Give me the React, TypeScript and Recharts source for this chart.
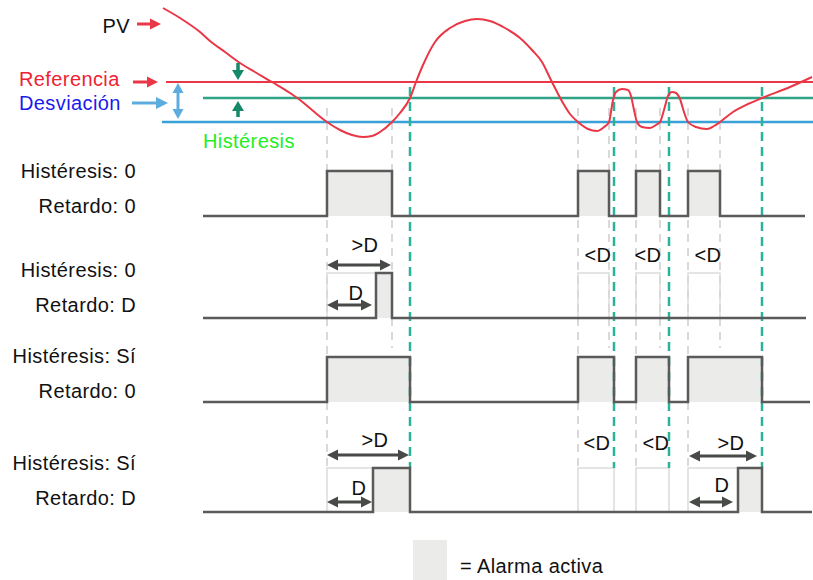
import React from 'react';
import { ComposedChart, Line, XAxis, YAxis, ReferenceLine, ReferenceArea, ReferenceDot } from 'recharts';

// ---------- data (diagram units: time along x, signal level along y) ----------
const pvTimes = [163, 180, 200, 210, 225, 240, 255, 272, 290, 300, 312, 327, 340, 352, 363, 372, 380, 392, 400, 410, 416, 423, 435, 450, 465, 477, 490, 505, 520, 532, 542, 550, 556, 563, 570, 578, 588, 597, 604, 609, 613, 616, 622, 628, 631, 634, 637, 642, 650, 656, 660, 664, 668, 672, 676, 680, 684, 688, 696, 707, 714, 720, 733, 748, 762, 790, 812];
const pvValues = [8, 18, 32, 41, 52, 63, 72, 82, 93, 100, 110, 122, 130, 135, 137, 136, 132, 122, 113, 98, 82, 65, 42, 28, 21, 19, 21, 28, 38, 50, 62, 78, 90, 103, 114, 122, 129, 131, 127, 122, 100, 92, 89, 90, 96, 110, 122, 127, 128, 125, 122, 110, 96, 92, 93, 99, 112, 122, 127, 129, 126, 122, 112, 104, 98, 87, 77];

const referencia = 82;
const histeresisLevel = 98;
const desviacion = 122;

const rowTitles = ['Histéresis: 0', 'Histéresis: 0', 'Histéresis: Sí', 'Histéresis: Sí'];
const rowDelays = ['Retardo: 0', 'Retardo: D', 'Retardo: 0', 'Retardo: D'];

// transition times (rise, fall, rise, fall, ...)
const row1Edges = [327, 392, 578, 609, 636, 660, 688, 720];
const row2Edges = [376, 392];
const row3Edges = [327, 410, 578, 614, 636, 669, 688, 762];
const row4Edges = [373, 410, 738, 762];

// would-be alarm windows (not reached because of the delay)
const row2Ghost = [[327, 376], [578, 609], [636, 660], [688, 720]];
const row4Ghost = [[327, 373], [578, 614], [636, 669], [688, 738]];

// crossings of PV with the deviation line (gray) and the hysteresis line (teal)
const grayLong = [327, 578, 636, 688];
const grayShort = [392, 609, 660, 720];
const tealCrossings = [410, 614, 669, 762];

// ---------- layout ----------
const W = 813;
const H = 580;
const FONT = '"Liberation Sans", Arial, sans-serif';
const ROWS = [
  { low: 216, high: 171, start: 203, end: 805, t1: 178, t2: 213 },
  { low: 318, high: 273, start: 203, end: 806, t1: 277, t2: 312 },
  { low: 402, high: 357, start: 203, end: 810, t1: 363, t2: 398 },
  { low: 512, high: 468, start: 203, end: 812, t1: 470, t2: 505 },
];
const allEdges = [row1Edges, row2Edges, row3Edges, row4Edges];
const ghosts = [[], row2Ghost, [], row4Ghost];

const SIG = '#5a5a5a';
const FILL = '#ebebea';
const RED = '#ea3747';
const GREEN_LINE = '#2ea386';
const BLUE_LINE = '#3aa0d8';
const LIGHT_BLUE = '#5cacdf';
const TEAL = '#2bb39a';
const DARK_GREEN = '#16896a';
const GRAY_DASH = '#d9d9d9';
const ARROW = '#474a47';

const pvData = pvTimes.map((t, i) => ({ t, v: pvValues[i] }));

const stepData = (edges: number[], r: typeof ROWS[number]) => {
  const pts = [{ t: r.start, v: r.low }];
  edges.forEach((e, i) => pts.push({ t: e, v: i % 2 === 0 ? r.high : r.low }));
  pts.push({ t: r.end, v: r.low });
  return pts;
};
const pulses = (edges: number[]) => {
  const out: number[][] = [];
  for (let i = 0; i + 1 < edges.length; i += 2) out.push([edges[i], edges[i + 1]]);
  return out;
};

type Arr = { x1: number; y1: number; x2: number; y2: number; color: string; w: number; both: boolean; hl: number; hw: number };
const arrows: Arr[] = [
  { x1: 137, y1: 24, x2: 161, y2: 24, color: RED, w: 3, both: false, hl: 11, hw: 11 },
  { x1: 133, y1: 82, x2: 158, y2: 82, color: RED, w: 3, both: false, hl: 11, hw: 11 },
  { x1: 132, y1: 103, x2: 168, y2: 103, color: LIGHT_BLUE, w: 3, both: false, hl: 12, hw: 12 },
  { x1: 178, y1: 83, x2: 178, y2: 119, color: LIGHT_BLUE, w: 3, both: true, hl: 10, hw: 11 },
  { x1: 238, y1: 63, x2: 238, y2: 80, color: DARK_GREEN, w: 3.5, both: false, hl: 10, hw: 12 },
  { x1: 238, y1: 117, x2: 238, y2: 101, color: DARK_GREEN, w: 3.5, both: false, hl: 10, hw: 12 },
  { x1: 327, y1: 265, x2: 391, y2: 265, color: ARROW, w: 3, both: true, hl: 11, hw: 11 },
  { x1: 327, y1: 305, x2: 372, y2: 305, color: ARROW, w: 3, both: true, hl: 11, hw: 11 },
  { x1: 327, y1: 455, x2: 409, y2: 455, color: ARROW, w: 3, both: true, hl: 11, hw: 11 },
  { x1: 327, y1: 502, x2: 372, y2: 502, color: ARROW, w: 3, both: true, hl: 11, hw: 11 },
  { x1: 689, y1: 456, x2: 757, y2: 456, color: ARROW, w: 3, both: true, hl: 11, hw: 11 },
  { x1: 689, y1: 502, x2: 733, y2: 502, color: ARROW, w: 3, both: true, hl: 11, hw: 11 },
];

type Lbl = { x: number; y: number; text: string; color: string; anchor: 'start' | 'middle' | 'end' };
const labels: Lbl[] = [
  { x: 130, y: 33, text: 'PV', color: '#111', anchor: 'end' },
  { x: 19, y: 86, text: 'Referencia', color: '#ee2233', anchor: 'start' },
  { x: 19, y: 110, text: 'Desviación', color: '#1a1aee', anchor: 'start' },
  { x: 203, y: 148, text: 'Histéresis', color: '#22ee22', anchor: 'start' },
  { x: 365, y: 252, text: '>D', color: '#111', anchor: 'middle' },
  { x: 356, y: 300, text: 'D', color: '#111', anchor: 'middle' },
  { x: 598, y: 262, text: '<D', color: '#111', anchor: 'middle' },
  { x: 648, y: 262, text: '<D', color: '#111', anchor: 'middle' },
  { x: 708, y: 262, text: '<D', color: '#111', anchor: 'middle' },
  { x: 375, y: 447, text: '>D', color: '#111', anchor: 'middle' },
  { x: 359, y: 495, text: 'D', color: '#111', anchor: 'middle' },
  { x: 597, y: 450, text: '<D', color: '#111', anchor: 'middle' },
  { x: 656, y: 450, text: '<D', color: '#111', anchor: 'middle' },
  { x: 731, y: 450, text: '>D', color: '#111', anchor: 'middle' },
  { x: 722, y: 492, text: 'D', color: '#111', anchor: 'middle' },
  { x: 460, y: 573, text: '= Alarma activa', color: '#111', anchor: 'start' },
];

const arrowShape = (a: Arr) => (p: any) => {
  const { x1, y1, x2, y2 } = p;
  const dx = x2 - x1;
  const dy = y2 - y1;
  const len = Math.hypot(dx, dy) || 1;
  const ux = dx / len;
  const uy = dy / len;
  const nx = -uy;
  const ny = ux;
  const head = (tx: number, ty: number, dx2: number, dy2: number) =>
    `${tx},${ty} ${tx - dx2 * a.hl + (nx * a.hw) / 2},${ty - dy2 * a.hl + (ny * a.hw) / 2} ${tx - dx2 * a.hl - (nx * a.hw) / 2},${ty - dy2 * a.hl - (ny * a.hw) / 2}`;
  const sx = a.both ? x1 + ux * a.hl * 0.7 : x1;
  const sy = a.both ? y1 + uy * a.hl * 0.7 : y1;
  const ex = x2 - ux * a.hl * 0.7;
  const ey = y2 - uy * a.hl * 0.7;
  return (
    <g>
      <line x1={sx} y1={sy} x2={ex} y2={ey} stroke={a.color} strokeWidth={a.w} />
      <polygon points={head(x2, y2, ux, uy)} fill={a.color} />
      {a.both ? <polygon points={head(x1, y1, -ux, -uy)} fill={a.color} /> : null}
    </g>
  );
};

const textShape = (l: Lbl, size: number, spacing: number) => (p: any) => (
  <text x={p.cx} y={p.cy} textAnchor={l.anchor} fontFamily={FONT} fontSize={size} letterSpacing={spacing} fill={l.color}>
    {l.text}
  </text>
);

export default function App() {
  return (
    <div style={{ position: 'absolute', left: 0, top: 0, width: W, height: H, background: '#fff' }}>
      <ComposedChart width={W} height={H} margin={{ top: 0, right: 0, bottom: 0, left: 0 }}>
        <XAxis dataKey="t" type="number" domain={[0, W]} allowDataOverflow hide />
        <YAxis type="number" domain={[0, H]} reversed allowDataOverflow hide />

        {grayLong.map((x, i) => (
          <ReferenceLine key={`gl${i}`} segment={[{ x, y: 108 }, { x, y: 467 }]} stroke={GRAY_DASH} strokeWidth={2} strokeDasharray="8 6" />
        ))}
        {grayShort.map((x, i) => (
          <ReferenceLine key={`gs${i}`} segment={[{ x, y: 108 }, { x, y: 348 }]} stroke={GRAY_DASH} strokeWidth={2} strokeDasharray="8 6" />
        ))}

        {ROWS.map((r, ri) =>
          pulses(allEdges[ri]).map(([a, b], i) => (
            <ReferenceArea key={`f${ri}-${i}`} x1={a} x2={b} y1={r.high} y2={r.low} fill={FILL} fillOpacity={1} stroke="none" />
          ))
        )}
        {ROWS.map((r, ri) =>
          ghosts[ri].map(([a, b], i) => (
            <ReferenceArea key={`g${ri}-${i}`} x1={a} x2={b} y1={r.high} y2={r.low} fill="none" fillOpacity={0} stroke="#dcdcdc" strokeWidth={1.5} />
          ))
        )}
        <ReferenceArea x1={413} x2={447} y1={540} y2={580} fill={FILL} fillOpacity={1} stroke="none" />

        <ReferenceLine segment={[{ x: 166, y: referencia }, { x: W, y: referencia }]} stroke={RED} strokeWidth={2} />
        <ReferenceLine segment={[{ x: 203, y: histeresisLevel }, { x: W, y: histeresisLevel }]} stroke={GREEN_LINE} strokeWidth={2.5} />
        <ReferenceLine segment={[{ x: 162, y: desviacion }, { x: W, y: desviacion }]} stroke={BLUE_LINE} strokeWidth={2.5} />

        {tealCrossings.map((x, i) => (
          <ReferenceLine key={`t${i}`} segment={[{ x, y: 87 }, { x, y: 468 }]} stroke={TEAL} strokeWidth={2.5} strokeDasharray="9 6" />
        ))}

        <Line data={pvData} dataKey="v" type="monotone" stroke={RED} strokeWidth={2} dot={false} activeDot={false} isAnimationActive={false} />

        {ROWS.map((r, ri) => (
          <Line key={`s${ri}`} data={stepData(allEdges[ri], r)} dataKey="v" type="stepAfter" stroke={SIG} strokeWidth={2.5} dot={false} activeDot={false} isAnimationActive={false} />
        ))}

        {arrows.map((a, i) => (
          <ReferenceLine key={`a${i}`} segment={[{ x: a.x1, y: a.y1 }, { x: a.x2, y: a.y2 }]} shape={arrowShape(a)} />
        ))}

        {labels.map((l, i) => (
          <ReferenceDot key={`l${i}`} x={l.x} y={l.y} r={0} shape={textShape(l, 20, 0.4)} />
        ))}
        {ROWS.map((r, ri) => (
          <ReferenceDot key={`rt${ri}`} x={136} y={r.t1} r={0} shape={textShape({ x: 136, y: r.t1, text: rowTitles[ri], color: '#111', anchor: 'end' }, 20, 0.4)} />
        ))}
        {ROWS.map((r, ri) => (
          <ReferenceDot key={`rd${ri}`} x={136} y={r.t2} r={0} shape={textShape({ x: 136, y: r.t2, text: rowDelays[ri], color: '#111', anchor: 'end' }, 20, 0.4)} />
        ))}
      </ComposedChart>
    </div>
  );
}
